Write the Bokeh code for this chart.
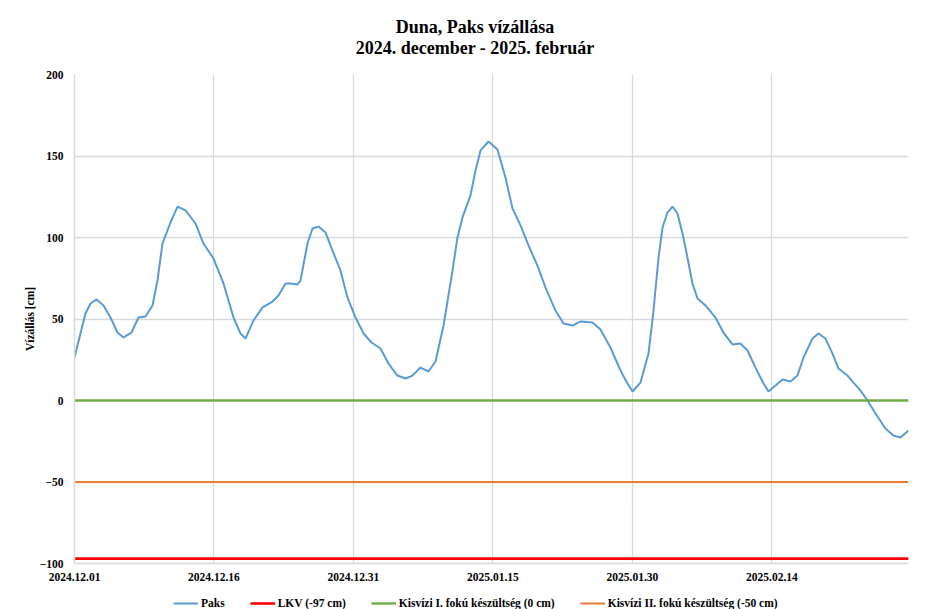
import pandas as pd
from bokeh.plotting import figure
from bokeh.layouts import column
from bokeh.models import (FixedTicker, DatetimeTickFormatter, Legend, LegendItem,
                          Range1d, Div)
from bokeh.embed import file_html
from bokeh.resources import INLINE

# ---------------- data ----------------
title_line1 = "Duna, Paks vízállása"
title_line2 = "2024. december - 2025. február"
y_axis_label = "Vízállás [cm]"
start_date = "2024-12-01"

# days after 2024-12-01 00:00
day_offsets = [0.0, 1.18, 1.72, 2.37, 3.12, 3.87, 4.62, 5.27, 6.13, 6.88, 7.63, 8.39,
               8.92, 9.46, 10.32, 11.08, 11.94, 13.01, 13.87, 14.95, 16.02, 17.10,
               17.85, 18.39, 19.25, 20.22, 21.29, 21.94, 22.69, 23.23, 23.98, 24.30,
               25.05, 25.59, 26.24, 26.99, 27.74, 28.60, 29.35, 30.22, 31.08, 31.94,
               32.90, 33.76, 34.73, 35.59, 36.34, 37.20, 38.06, 38.82, 39.68, 40.65,
               41.18, 41.72, 42.58, 43.12, 43.66, 44.52, 45.48, 46.34, 47.10, 47.96,
               48.82, 49.78, 50.65, 51.72, 52.58, 53.55, 54.41, 55.70, 56.56, 57.63,
               58.71, 59.46, 60.00, 60.86, 61.72, 62.26, 62.80, 63.23, 63.76, 64.30,
               64.84, 65.38, 65.91, 66.45, 66.99, 67.85, 68.92, 69.78, 70.75, 71.61,
               72.37, 73.23, 74.09, 74.62, 75.38, 76.13, 76.99, 77.74, 78.39, 79.35,
               80.00, 80.75, 81.51, 82.15, 83.12, 83.76, 84.52, 85.27, 86.13, 87.20,
               88.06, 88.82, 89.68]
paks_cm = [26.4, 53.4, 59.5, 62.0, 58.3, 50.9, 41.7, 38.7, 41.7, 50.9, 51.5, 58.3,
           73.6, 96.3, 109.2, 119.0, 116.6, 108.6, 96.3, 87.1, 71.8, 50.9,
           41.1, 38.0, 49.1, 57.1, 60.7, 64.4, 71.8, 71.8, 71.2, 73.6,
           96.3, 105.5, 106.7, 103.1, 92.0, 79.8, 63.2, 50.9, 41.1, 35.6,
           31.9, 22.7, 15.3, 13.5, 15.3, 20.2, 17.8, 23.9, 46.0, 79.8,
           100.0, 112.3, 125.8, 141.1, 153.4, 158.9, 154.0, 136.8, 117.8, 107.4,
           95.1, 82.8, 69.3, 55.2, 47.2, 46.0, 48.5, 47.9, 43.6, 32.5,
           18.4, 10.4, 5.5, 11.0, 28.8, 55.2, 87.7, 106.1, 115.3, 119.0,
           114.7, 102.5, 87.7, 71.8, 62.6, 58.3, 50.9, 41.7, 34.4, 35.0,
           30.7, 20.2, 10.4, 5.5, 9.2, 12.9, 11.7, 15.3, 26.4, 38.0,
           41.1, 38.0, 28.8, 19.6, 15.3, 11.0, 6.1, 0.0, -8.0, -17.2,
           -21.5, -22.7, -18.4]

series_name = "Paks"
threshold_names = ["LKV (-97 cm)", "Kisvízi I. fokú készültség (0 cm)",
                   "Kisvízi II. fokú készültség (-50 cm)"]
threshold_values = [-97, 0, -50]

x_tick_labels = ["2024.12.01", "2024.12.16", "2024.12.31", "2025.01.15",
                 "2025.01.30", "2025.02.14"]
y_ticks = [-100, -50, 0, 50, 100, 150, 200]

# ---------------- styling ----------------
FONT = "Liberation Serif"
GRID = "#d9d9d9"
paks_color = "#5b9bd5"
threshold_colors = ["#ff0000", "#70ad47", "#ed7d31"]
threshold_widths = [2.6, 2.4, 2.0]

t0 = pd.Timestamp(start_date)
times = [t0 + pd.to_timedelta(d, unit="D") for d in day_offsets]
x_start, x_end = times[0], times[-1]
tick_times = [pd.to_datetime(s, format="%Y.%m.%d") for s in x_tick_labels]
tick_ms = [int(t.value // 10**6) for t in tick_times]

# ---------------- title ----------------
title_html = (
    '<div style="width:914px;margin:0;padding-top:17px;text-align:center;'
    'transform:translateX(18px);font-family:\'Liberation Serif\';font-weight:bold;'
    'font-size:18px;line-height:21px;color:black;">'
    f'{title_line1}<br>{title_line2}</div>'
)
title_div = Div(text=title_html, width=914, height=66, margin=0)

# ---------------- main chart ----------------
p = figure(width=914, height=528, x_axis_type="datetime",
           output_backend="svg", toolbar_location=None, title=None,
           x_range=Range1d(x_start, x_end), y_range=Range1d(y_ticks[0], y_ticks[-1]),
           min_border_left=74, min_border_right=6, min_border_top=8,
           min_border_bottom=31, margin=0)
p.outline_line_color = None
p.background_fill_color = "white"
p.border_fill_color = "white"

p.line(times, paks_cm, line_color=paks_color, line_width=2)
for val, col, w in zip(threshold_values, threshold_colors, threshold_widths):
    p.line([x_start, x_end], [val, val], line_color=col, line_width=w)

p.xaxis.ticker = FixedTicker(ticks=tick_ms)
fmt = "%Y.%m.%d"
p.xaxis.formatter = DatetimeTickFormatter(days=fmt, months=fmt, years=fmt,
                                          hours=fmt, context=None)
p.yaxis.ticker = FixedTicker(ticks=y_ticks)
p.yaxis.axis_label = y_axis_label

for ax in (p.xaxis[0], p.yaxis[0]):
    ax.axis_line_color = GRID
    ax.axis_line_width = 1.5
    ax.major_tick_line_color = None
    ax.minor_tick_line_color = None
    ax.major_tick_out = 0
    ax.major_tick_in = 0
    ax.major_label_text_font = FONT
    ax.major_label_text_font_style = "bold"
    ax.major_label_text_font_size = "11.5px"
    ax.major_label_text_color = "black"
p.yaxis.major_label_standoff = 11
p.xaxis.major_label_standoff = 9
p.xaxis.axis_label_standoff = 0
p.yaxis.axis_label_text_font = FONT
p.yaxis.axis_label_text_font_style = "bold"
p.yaxis.axis_label_text_font_size = "11.5px"
p.yaxis.axis_label_text_color = "black"
p.yaxis.axis_label_standoff = 1

p.xgrid.ticker = FixedTicker(ticks=tick_ms)
p.ygrid.ticker = FixedTicker(ticks=y_ticks)
p.grid.grid_line_color = GRID
p.grid.grid_line_width = 1.3

# ---------------- legend strip (same series, out of its view) ----------------
lf = figure(width=914, height=15, x_axis_type="datetime",
            output_backend="svg", toolbar_location=None, title=None,
            x_range=Range1d(x_start, x_end), y_range=Range1d(1000, 2000),
            x_axis_location=None, y_axis_location=None,
            min_border=0, margin=0)
lf.outline_line_color = None
lf.grid.visible = False
l_paks = lf.line(times, paks_cm, line_color=paks_color, line_width=2)
l_thr = []
for val, col, w in zip(threshold_values, threshold_colors, threshold_widths):
    l_thr.append(lf.line([x_start, x_end], [val, val], line_color=col, line_width=w))

items = [LegendItem(label=series_name, renderers=[l_paks])]
for name, r in zip(threshold_names, l_thr):
    items.append(LegendItem(label=name, renderers=[r]))
legend = Legend(items=items, orientation="horizontal", location=(99, 0),
                glyph_width=25, glyph_height=12, label_standoff=3, spacing=25,
                padding=0, margin=0, border_line_color=None,
                background_fill_alpha=0, label_text_font=FONT,
                label_text_font_style="bold", label_text_font_size="11.5px",
                label_height=12, label_text_color="black")
lf.add_layout(legend, "center")

layout = column(title_div, p, lf, spacing=0, margin=0)
open("out.html", "w").write(file_html(layout, INLINE))
